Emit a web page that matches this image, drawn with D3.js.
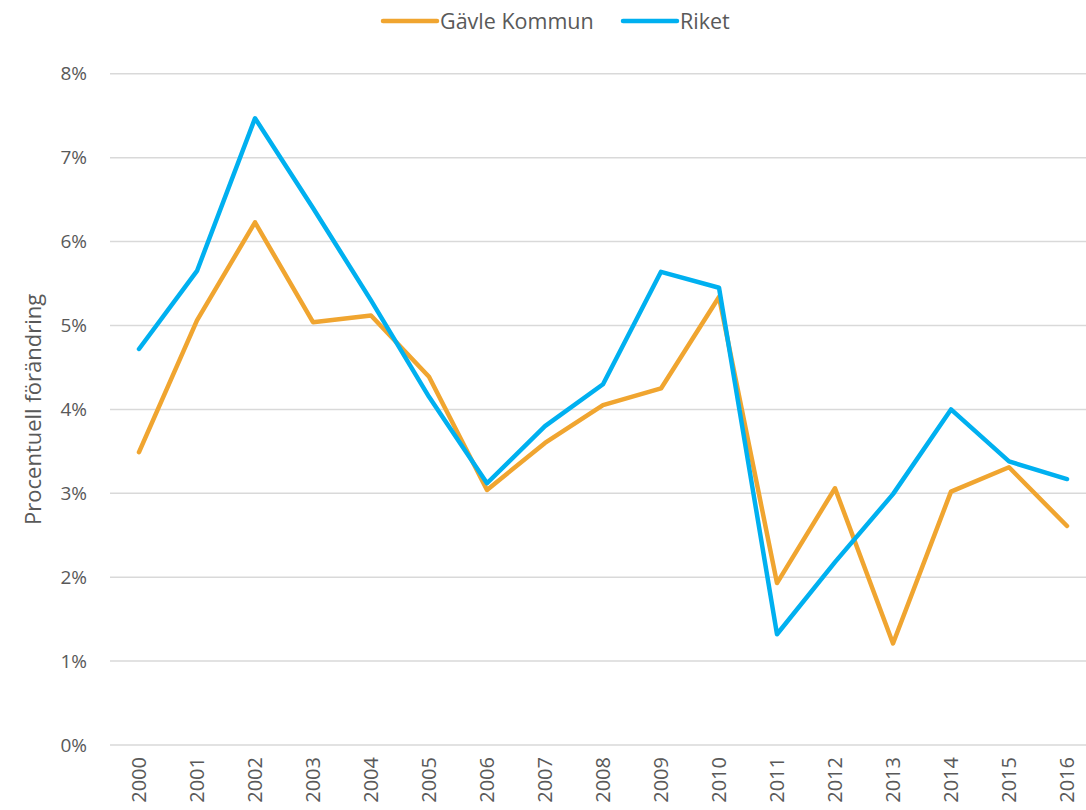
<!DOCTYPE html>
<html lang="sv">
<head>
  <meta charset="UTF-8">
  <title>Procentuell förändring</title>
  <script src="https://d3js.org/d3.v7.min.js"></script>
  <style>
    body { margin: 0; background: #fff; }
    svg { display: block; font-family: "Open Sans", sans-serif; }
    .tick text { fill: #595959; }
  </style>
</head>
<body>
  <svg width="1086" height="810"></svg>

  <script>
    const years = ["2000","2001","2002","2003","2004","2005","2006","2007","2008",
                   "2009","2010","2011","2012","2013","2014","2015","2016"];
    const gavle = [3.49, 5.06, 6.23, 5.04, 5.12, 4.39, 3.04, 3.6, 4.05, 4.25, 5.34, 1.93, 3.06, 1.21, 3.02, 3.31, 2.61];
    const riket = [4.72, 5.65, 7.47, 6.4, 5.3, 4.15, 3.12, 3.8, 4.3, 5.64, 5.45, 1.32, 2.18, 2.99, 4.0, 3.38, 3.17];
    const yTicks = [0, 1, 2, 3, 4, 5, 6, 7, 8];
    const seriesNames = ["Gävle Kommun", "Riket"];
    const colors = ["#F0A530", "#00B0F0"];

    const svg = d3.select("svg");
    const plotL = 110, plotR = 1096, plotT = 73.8, plotB = 745;

    const x = d3.scaleBand().domain(years).range([plotL, plotR]);
    const y = d3.scaleLinear().domain([0, 8]).range([plotB, plotT]);

    // gridlines
    svg.append("g").selectAll("line")
      .data(yTicks).enter().append("line")
      .attr("x1", plotL).attr("x2", plotR)
      .attr("y1", d => y(d)).attr("y2", d => y(d))
      .attr("stroke", "#d9d9d9").attr("stroke-width", 1.5);

    // y axis labels
    const yAxis = svg.append("g")
      .attr("transform", `translate(${plotL - 20},0)`)
      .call(d3.axisLeft(y).tickValues(yTicks).tickSize(0).tickFormat(d => d + "%"));
    yAxis.select(".domain").remove();
    yAxis.selectAll("text").attr("font-size", 19).attr("font-family", "Open Sans");

    // x axis labels
    const xAxis = svg.append("g")
      .attr("transform", `translate(0,${plotB})`)
      .call(d3.axisBottom(x).tickSize(0));
    xAxis.select(".domain").remove();
    xAxis.selectAll("text")
      .attr("font-size", 20).attr("font-family", "Open Sans")
      .attr("transform", "rotate(-90)")
      .attr("text-anchor", "end")
      .attr("x", -12).attr("y", 0).attr("dy", "0.35em");

    // y title
    svg.append("text")
      .attr("transform", `translate(41,${(plotB + plotT) / 2}) rotate(-90)`)
      .attr("text-anchor", "middle")
      .attr("font-size", 22).attr("fill", "#595959")
      .text("Procentuell förändring");

    const line = d3.line()
      .x((d, i) => x(years[i]) + x.bandwidth() / 2)
      .y(d => y(d));

    [gavle, riket].forEach((s, k) => {
      svg.append("path")
        .datum(s)
        .attr("fill", "none")
        .attr("stroke", colors[k])
        .attr("stroke-width", 4.5)
        .attr("stroke-linejoin", "round")
        .attr("stroke-linecap", "round")
        .attr("d", line);
    });

    // legend
    const legendX = [383, 623];
    seriesNames.forEach((n, k) => {
      const g = svg.append("g").attr("transform", `translate(${legendX[k]},21)`);
      g.append("line").attr("x1", 0).attr("x2", 54)
        .attr("stroke", colors[k]).attr("stroke-width", 4.5).attr("stroke-linecap", "round");
      g.append("text").attr("x", 57).attr("dy", "0.35em")
        .attr("font-size", 21.5).attr("fill", "#595959").text(n);
    });
  </script>
</body>
</html>
